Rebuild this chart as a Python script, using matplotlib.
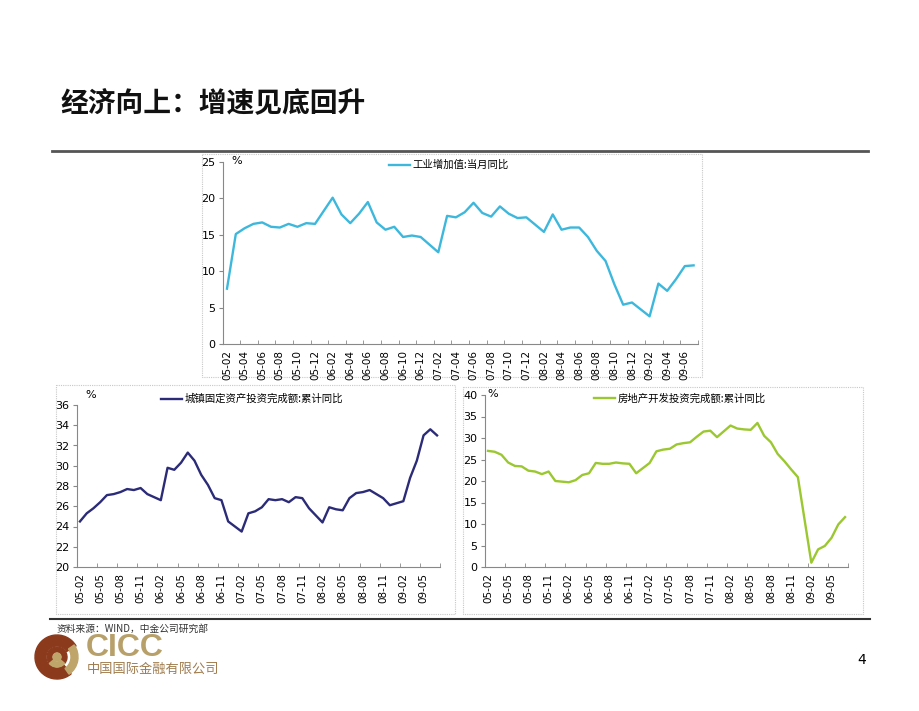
import numpy as np
import pandas as pd
import matplotlib
matplotlib.use('Agg')
import matplotlib.pyplot as plt
from matplotlib.patches import Rectangle, Wedge, Circle

plt.rcParams['font.family'] = ['Noto Sans CJK SC', 'DejaVu Sans']

# monthly categories 2005-02 .. 2009-07 (January values are not published)
months = pd.date_range('2005-02-01', '2009-07-01', freq='MS')
month_labels = list(months.strftime('%y-%m'))

# industrial value added, yoy of the month (%)
ind_2005 = [7.6, 15.1, 15.9, 16.5, 16.7, 16.1, 16.0, 16.5, 16.1, 16.6, 16.5]
ind_2006 = [None, 20.1, 17.8, 16.6, 17.9, 19.5, 16.7, 15.7, 16.1, 14.7, 14.9, 14.7]
ind_2007 = [None, 12.6, 17.6, 17.4, 18.1, 19.4, 18.0, 17.5, 18.9, 17.9, 17.3, 17.4]
ind_2008 = [None, 15.4, 17.8, 15.7, 16.0, 16.0, 14.7, 12.8, 11.4, 8.2, 5.4, 5.7]
ind_2009 = [None, 3.8, 8.3, 7.3, 8.9, 10.7, 10.8]

# urban fixed asset investment, ytd yoy (%)
fai_2005 = [24.5, 25.3, 25.8, 26.4, 27.1, 27.2, 27.4, 27.7, 27.6, 27.8, 27.2]
fai_2006 = [None, 26.6, 29.8, 29.6, 30.3, 31.3, 30.5, 29.1, 28.1, 26.8, 26.6, 24.5]
fai_2007 = [None, 23.5, 25.3, 25.5, 25.9, 26.7, 26.6, 26.7, 26.4, 26.9, 26.8, 25.8]
fai_2008 = [None, 24.4, 25.9, 25.7, 25.6, 26.8, 27.3, 27.4, 27.6, 27.2, 26.8, 26.1]
fai_2009 = [None, 26.5, 28.8, 30.5, 33.0, 33.6, 33.0]

# real estate development investment, ytd yoy (%)
re_2005 = [27.0, 26.8, 26.1, 24.3, 23.5, 23.4, 22.4, 22.2, 21.6, 22.2, 20.0]
re_2006 = [None, 19.7, 20.2, 21.4, 21.8, 24.2, 24.0, 24.0, 24.3, 24.1, 24.0, 21.8]
re_2007 = [None, 24.2, 26.9, 27.3, 27.5, 28.5, 28.8, 29.0, 30.3, 31.5, 31.7, 30.2]
re_2008 = [None, 32.9, 32.2, 32.0, 31.9, 33.5, 30.5, 29.0, 26.3, 24.6, 22.7, 20.9]
re_2009 = [None, 1.0, 4.1, 4.9, 6.8, 9.9, 11.6]

ind = ind_2005 + ind_2006 + ind_2007 + ind_2008 + ind_2009
fai = fai_2005 + fai_2006 + fai_2007 + fai_2008 + fai_2009
re_inv = re_2005 + re_2006 + re_2007 + re_2008 + re_2009

W, H = 920, 711
fig = plt.figure(figsize=(9.2, 7.11), dpi=100)

# background layer in pixel coords
bg = fig.add_axes([0, 0, 1, 1], zorder=0)
bg.set_xlim(0, W)
bg.set_ylim(H, 0)
bg.axis('off')


def rect(x0, y0, x1, y1):
    return [x0 / W, 1 - y1 / H, (x1 - x0) / W, (y1 - y0) / H]


def draw(box, vals, color, ylim, yticks, step, label, leg_xy):
    ax = fig.add_axes(rect(*box), zorder=2)
    ax.patch.set_alpha(0)
    y = np.array([np.nan if v is None else v for v in vals], dtype=float)
    x = np.arange(len(y))
    ok = ~np.isnan(y)
    ax.plot(x[ok], y[ok], color=color, lw=1.7, label=label)
    ax.set_xlim(-0.5, len(y) - 0.5)
    ax.set_ylim(*ylim)
    ax.set_yticks(yticks)
    ax.set_xticks(range(0, len(y), step))
    ax.set_xticklabels(month_labels[::step], rotation=90, fontsize=7.5,
                       family='DejaVu Sans')
    ax.set_xticks(np.arange(step - 0.5, len(y), step), minor=True)
    ax.tick_params(axis='x', which='major', length=0, pad=4)
    ax.tick_params(axis='x', which='minor', length=3, direction='in', color='#888888')
    ax.tick_params(axis='y', length=3, direction='out', color='#888888',
                   labelsize=8, pad=2)
    for lab in ax.get_yticklabels():
        lab.set_family('DejaVu Sans')
    for s in ['top', 'right']:
        ax.spines[s].set_visible(False)
    for s in ['left', 'bottom']:
        ax.spines[s].set_color('#888888')
        ax.spines[s].set_linewidth(0.8)
    ax.legend(loc='center left', bbox_to_anchor=(leg_xy[0] / W, 1 - leg_xy[1] / H),
              bbox_transform=fig.transFigure, frameon=False, fontsize=7.5,
              handlelength=2.0, handletextpad=0.3, borderaxespad=0, borderpad=0)
    return ax


# chart frames
for x0, y0, x1, y1 in [(202, 154, 702, 377), (56, 385, 455, 614), (463, 387, 863, 614)]:
    bg.add_patch(Rectangle((x0, y0), x1 - x0, y1 - y0, fill=False,
                           ec='#c8c8c8', lw=0.8, ls=(0, (1, 1))))

draw((222.6, 162, 698, 344), ind, '#3db8dc', (0, 25), range(0, 26, 5), 2,
     '工业增加值:当月同比', (389, 165))
draw((76.6, 405, 440.4, 567), fai, '#2b2b78', (20, 36), range(20, 37, 2), 3,
     '城镇固定资产投资完成额:累计同比', (161, 399))
draw((484.6, 395, 848.4, 567), re_inv, '#9bc730', (0, 40), range(0, 41, 5), 3,
     '房地产开发投资完成额:累计同比', (594, 399))

for px, py in [(237, 161), (91, 395), (493, 394)]:
    bg.text(px, py, '%', fontsize=8, family='DejaVu Sans', va='center', ha='center')

# title and rules
bg.text(60, 104, '经济向上：增速见底回升', fontsize=20, weight='bold',
        va='center', ha='left', color='#111111')
bg.plot([52, 868], [151, 151], color='#555555', lw=2)
bg.plot([50, 870], [619, 619], color='#333333', lw=1.5)

bg.text(57, 629, '资料来源：WIND，中金公司研究部', fontsize=7, va='center',
        ha='left', color='#333333')
bg.text(862, 660, '4', fontsize=10, family='DejaVu Sans', va='center', ha='center')

# CICC logo
cx, cy = 57, 657
bg.add_patch(Wedge((cx, cy), 22, 50, 330, width=11, color='#8c3a1c'))
bg.add_patch(Wedge((cx, cy), 21, -35, 55, width=7, color='#c0a56a'))
bg.add_patch(Wedge((cx, cy), 10, 140, 400, width=5, color='#8c3a1c'))
bg.add_patch(Wedge((cx, cy), 10, 40, 140, width=5, color='#c0a56a'))
bg.add_patch(Circle((cx, cy), 4, color='#c0a56a'))
bg.text(86, 648, 'CICC', fontsize=23, weight='bold', family='Liberation Sans',
        color='#b8a06a', va='center', ha='left')
bg.text(87, 669, '中国国际金融有限公司', fontsize=9.5, color='#a07c4e',
        va='center', ha='left')

fig.savefig('out.png', dpi=100, facecolor='white')
